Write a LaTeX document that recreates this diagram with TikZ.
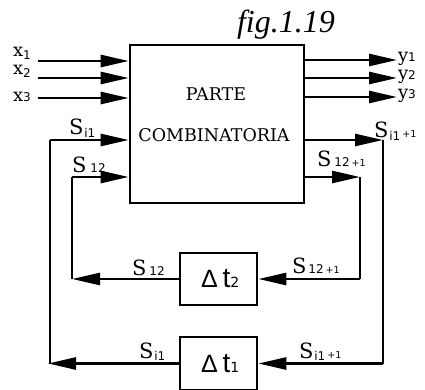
\documentclass[tikz,border=0pt]{standalone}
\usepackage{fontspec}
\usetikzlibrary{arrows.meta}
\newfontfamily\serf{DejaVu Serif}
\newfontfamily\subf{DejaVu Sans}
\newfontfamily\timesf{Liberation Serif}
\newfontfamily\helvf{Liberation Sans}
\newcommand\Sbig{{\serf\fontsize{21}{21}\selectfont S}}
\newcommand\subsc[1]{{\subf\fontsize{12}{12}\selectfont #1}}
\newcommand\plusone{{\fontsize{9.5}{9.5}\selectfont +1}}
\newcommand\sigl[2]{\Sbig\kern#1\subsc{#2}}
\newcommand\iOne{\raisebox{-2.5pt}{\subsc{i1}}}
\newcommand\xyf{\serf\fontsize{18}{18}\selectfont}
\tikzset{
 blk/.style={draw, line width=2.6pt, inner sep=0pt},
 wire/.style={line width=2.6pt},
 sig/.style={wire, -{Triangle[length=28pt,width=12pt]}},
 lab/.style={anchor=base west, inner sep=0pt, outer sep=0pt},
 boxtext/.style={anchor=base, inner sep=0pt, font=\serf\fontsize{17.5}{17.5}\selectfont},
}
\begin{document}
\begin{tikzpicture}[x=1pt,y=-1pt]
\useasboundingbox (0,0) rectangle (425,390);
% blocks
\node[blk, minimum width=174pt, minimum height=158pt] (main) at (217,124) {};
\node[boxtext] (t1) at (216,101) {PARTE};
\node[boxtext] (t2) at (214,142) {COMBINATORIA};
\node[blk, minimum width=77pt, minimum height=52pt] (d2) at (218.5,279) {};
\node[blk, minimum width=77pt, minimum height=53pt] (d1) at (218.5,363.5) {};
\node[lab] (dl2) at (201,287) {\helvf\fontsize{25}{25}\selectfont Δ\hspace{5pt}\fontsize{28}{28}\selectfont t\subf\fontsize{14}{14}\selectfont 2};
\node[lab] (dl1) at (201,372) {\helvf\fontsize{25}{25}\selectfont Δ\hspace{5pt}\fontsize{28}{28}\selectfont t\subf\fontsize{14}{14}\selectfont 1};
% title
\node[lab] (fig) at (237,33) {\timesf\itshape\fontsize{32}{32}\selectfont fig.1.19};
% inputs
\coordinate (in1) at (38,61);
\coordinate (in2) at (38,78);
\coordinate (in3) at (38,98);
\draw[sig] (in1) -- (in1 -| main.west);
\draw[sig] (in2) -- (in2 -| main.west);
\draw[sig] (in3) -- (in3 -| main.west);
\node[lab] (xl1) at (13,57) {\xyf x\raisebox{-3pt}{\subsc{1}}};
\node[lab] (xl2) at (13,75) {\xyf x\raisebox{-3pt}{\subsc{2}}};
\node[lab] (xl3) at (13,102) {\xyf x\subsc{3}};
% outputs
\coordinate (out1) at (397,60);
\coordinate (out2) at (397,78);
\coordinate (out3) at (397,97);
\draw[sig] (main.east |- out1) -- (out1);
\draw[sig] (main.east |- out2) -- (out2);
\draw[sig] (main.east |- out3) -- (out3);
\node[lab] (yl1) at (398,62) {\xyf y\subsc{1}};
\node[lab] (yl2) at (398,80) {\xyf y\subsc{2}};
\node[lab] (yl3) at (398,99) {\xyf y\subsc{3}};
% feedback loop 1
\coordinate (r1) at (383,140);
\coordinate (r1b) at (383,363.5);
\coordinate (l1) at (48,363.5);
\coordinate (l1v) at (50,363.5);
\coordinate (l1t) at (50,140);
\draw[sig] (main.east |- r1) -- (r1);
\draw[wire] (r1) -- (r1b);
\draw[sig] (r1b) -- (d1.east);
\draw[sig] (d1.west) -- (l1);
\draw[wire] (l1v) -- (l1t);
\draw[sig] (l1t) -- (l1t -| main.west);
% feedback loop 2
\coordinate (r2) at (360,177);
\coordinate (r2b) at (360,279);
\coordinate (l2) at (72,279);
\coordinate (l2t) at (72,177);
\draw[sig] (main.east |- r2) -- (r2);
\draw[wire] (r2) -- (r2b);
\draw[sig] (r2b) -- (d2.east);
\draw[sig] (d2.west) -- (l2);
\draw[wire] (l2) -- (l2t);
\draw[sig] (l2t) -- (l2t -| main.west);
% signal labels
\node[lab] (s1) at (69,135) {\Sbig\kern1pt\iOne};
\node[lab] (s2) at (72,172) {\sigl{4pt}{12}};
\node[lab] (s3) at (132,275) {\sigl{3pt}{12}};
\node[lab] (s4) at (139,358) {\Sbig\kern1pt\iOne};
\node[lab] (s5) at (374,138) {\Sbig\kern1pt\iOne\kern2pt\subsc{\plusone}};
\node[lab] (s6) at (317,167) {\sigl{3pt}{12\,\plusone}};
\node[lab] (s7) at (292,273) {\sigl{2pt}{12\,\plusone}};
\node[lab] (s8) at (299,358) {\Sbig\kern1pt\iOne\kern2pt\subsc{\plusone}};
\end{tikzpicture}
\end{document}
